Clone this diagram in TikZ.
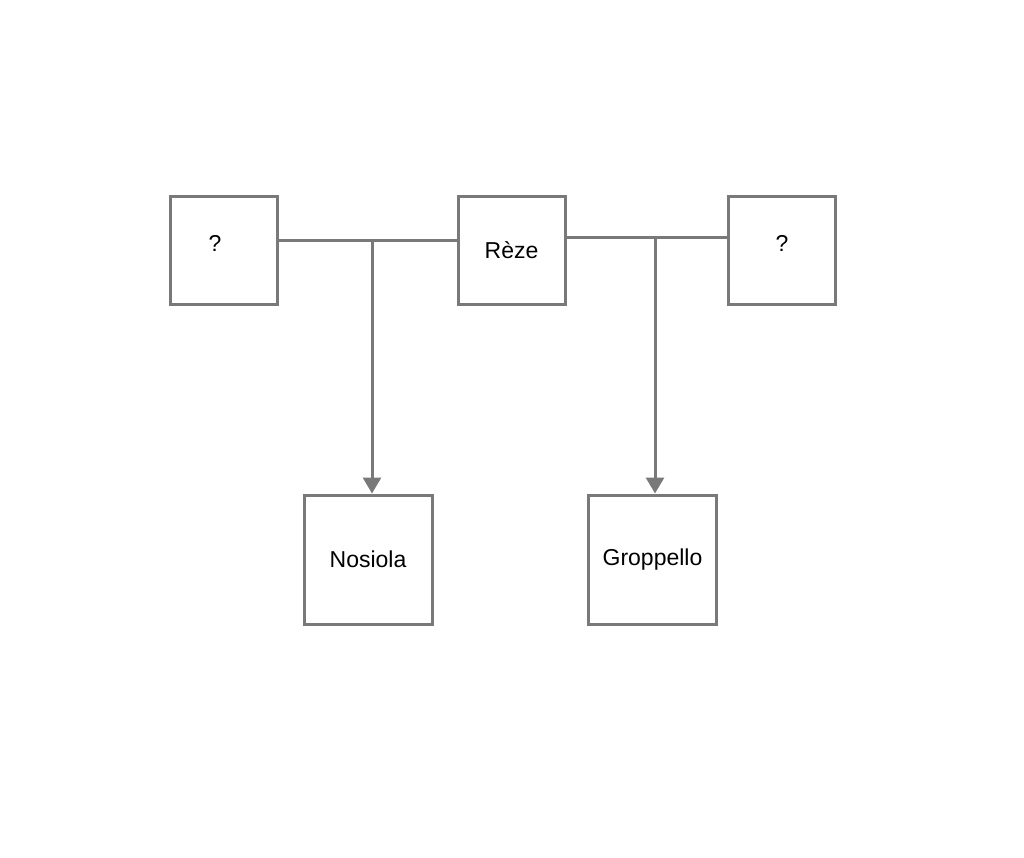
\documentclass[tikz,border=0pt]{standalone}
\usepackage{fontspec}
\setmainfont{Liberation Sans}
\usetikzlibrary{arrows.meta}
\begin{document}
\begin{tikzpicture}[x=1pt,y=-1pt,
  box/.style={draw=gray!95!black,line width=3pt,minimum width=107pt,minimum height=107pt,inner sep=0pt,font=\fontsize{23}{27}\selectfont},
  bigbox/.style={box,minimum width=128pt,minimum height=129pt},
  link/.style={draw=gray!95!black,line width=3pt},
  arr/.style={link,-{Triangle[length=16pt,width=18pt]}}]
\useasboundingbox (0,0) rectangle (1024,858);
\node[box] (q1) at (223.5,250.5) {};
\node at (215,243) {\fontsize{23}{27}\selectfont ?};
\node[box] (reze) at (511.5,250.5) {Rèze};
\node[box] (q2) at (781.5,250.5) {};
\node at (782,243) {\fontsize{23}{27}\selectfont ?};
\node[bigbox] (nos) at (368,559.5) {Nosiola};
\node[bigbox] (grop) at (652.5,559.5) {Groppello};
\coordinate (j1) at (372,241);
\coordinate (j2) at (655,238);
\draw[link] (q1.east |- j1) -- (reze.west |- j1);
\draw[link] (reze.east |- j2) -- (q2.west |- j2);
\draw[arr] (j1) -- (j1 |- nos.north);
\draw[arr] (j2) -- (j2 |- grop.north);
\end{tikzpicture}
\end{document}
